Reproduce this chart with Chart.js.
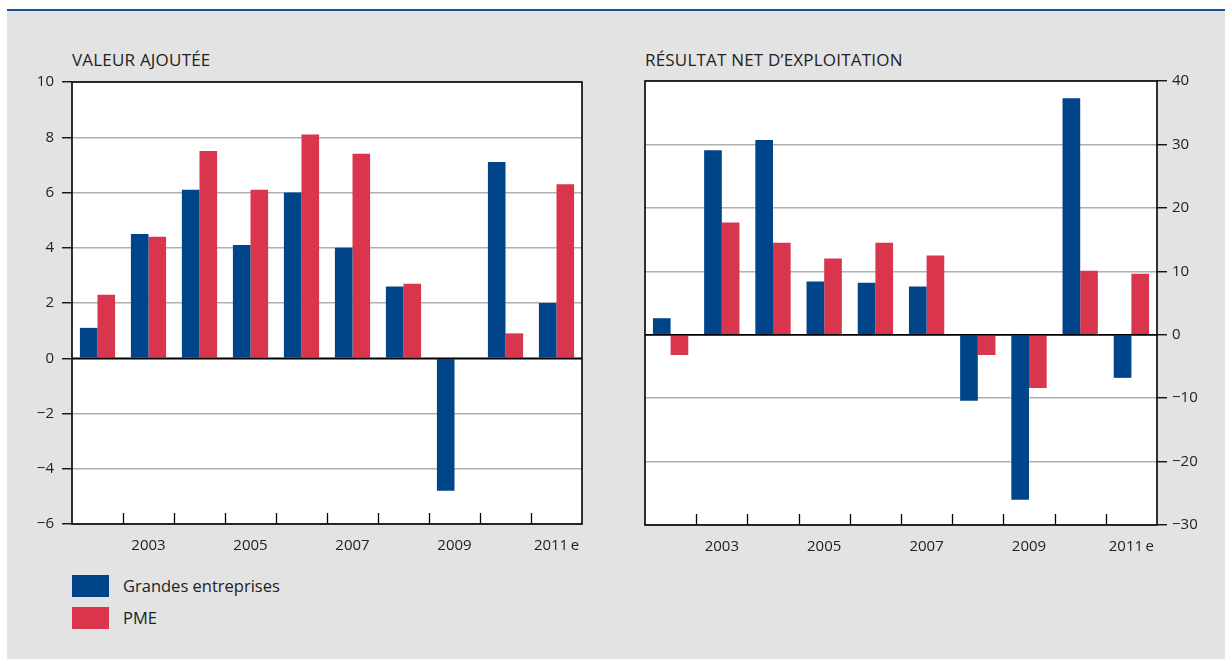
<!DOCTYPE html>
<html>
<head>
<meta charset="utf-8">
<script src="https://cdn.jsdelivr.net/npm/chart.js@4.4.1/dist/chart.umd.min.js"></script>
<style>
  html, body { margin:0; padding:0; background:#ffffff; width:1225px; height:659px; overflow:hidden; font-family:"Open Sans","Noto Sans",sans-serif; }
  #panel { position:absolute; left:7px; top:11px; width:1218px; height:648px; background:#e3e3e3; }
  #topline { position:absolute; left:7px; top:9px; width:1218px; height:2px; background:#1b4f8f; }
  .title { position:absolute; font-size:17px; line-height:22px; color:#222; white-space:nowrap; letter-spacing:0.2px; }
  .lg-box { position:absolute; width:37px; height:22px; }
  .lg-txt { position:absolute; font-size:16.5px; line-height:22px; color:#222; white-space:nowrap; }
  canvas { position:absolute; }
</style>
</head>
<body>
<div id="panel"></div>
<div id="topline"></div>
<div class="title" style="left:72px; top:49px;">VALEUR AJOUTÉE</div>
<div class="title" style="left:645px; top:49px;">RÉSULTAT NET D’EXPLOITATION</div>
<div class="lg-box" style="left:72px; top:575px; background:#004489;"></div>
<div class="lg-txt" style="left:123px; top:575px;">Grandes entreprises</div>
<div class="lg-box" style="left:72px; top:607px; background:#d9364e;"></div>
<div class="lg-txt" style="left:123px; top:607px;">PME</div>
<div style="position:absolute;left:0;top:0;width:612px;height:600px;"><canvas id="c1" width="612" height="600" style="left:0;top:0;width:612px;height:600px;"></canvas></div>
<div style="position:absolute;left:612px;top:0;width:613px;height:600px;"><canvas id="c2" width="613" height="600" style="left:0;top:0;width:613px;height:600px;"></canvas></div>
<script>
// ---- data ----
const categories = ['2002','2003','2004','2005','2006','2007','2008','2009','2010','2011 e'];
const xTickLabels = ['','2003','','2005','','2007','','2009','','2011\u2009e'];
const seriesNames = ['Grandes entreprises','PME'];

const valeurGrandes = [1.1, 4.5, 6.1, 4.1, 6.0, 4.0, 2.6, -4.8, 7.1, 2.0];
const valeurPME     = [2.3, 4.4, 7.5, 6.1, 8.1, 7.4, 2.7, 0, 0.9, 6.3];

const resultatGrandes = [2.6, 29.1, 30.7, 8.4, 8.2, 7.6, -10.4, -26.0, 37.3, -6.8];
const resultatPME     = [-3.2, 17.7, 14.5, 12.0, 14.5, 12.5, -3.2, -8.4, 10.1, 9.6];

const leftTicks  = [-6, -4, -2, 0, 2, 4, 6, 8, 10];
const rightTicks = [-30, -20, -10, 0, 10, 20, 30, 40];

// ---- style ----
const BLUE = '#004489';
const RED = '#d9364e';
Chart.defaults.font.family = '"Open Sans","Noto Sans",sans-serif';
Chart.defaults.font.size = 15;
Chart.defaults.color = '#222';
Chart.defaults.animation = false;

const fmt = v => (v < 0 ? '\u2212' + Math.abs(v) : String(v));

const framePlugin = {
  id: 'frame',
  afterDatasetsDraw(chart) {
    const ctx = chart.ctx, a = chart.chartArea;
    const xs = chart.scales.x, ys = chart.scales.y;
    ctx.save();
    ctx.strokeStyle = '#000';
    ctx.lineWidth = 1.5;
    const y0 = ys.getPixelForValue(0);
    ctx.beginPath(); ctx.moveTo(a.left, y0); ctx.lineTo(a.right, y0); ctx.stroke();
    ctx.lineWidth = 1.3;
    for (let i = 1; i < categories.length; i++) {
      const x = Math.round((xs.getPixelForValue(i - 1) + xs.getPixelForValue(i)) / 2) + 0.5;
      ctx.beginPath(); ctx.moveTo(x, a.bottom); ctx.lineTo(x, a.bottom - 11); ctx.stroke();
    }
    ctx.lineWidth = 1.6;
    ctx.strokeRect(a.left, a.top, a.right - a.left, a.bottom - a.top);
    ctx.restore();
  }
};

const bgPlugin = {
  id: 'plotbg',
  beforeDraw(chart) {
    const ctx = chart.ctx, a = chart.chartArea;
    ctx.save();
    ctx.fillStyle = '#ffffff';
    ctx.fillRect(a.left, a.top, a.right - a.left, a.bottom - a.top);
    ctx.restore();
  }
};

function makeChart(id, g, p, ticks, pos, padding, yWidth) {
  const tickSet = ticks.slice();
  return new Chart(document.getElementById(id), {
    type: 'bar',
    data: {
      labels: categories,
      datasets: [
        { label: seriesNames[0], data: g, backgroundColor: BLUE, categoryPercentage: 0.69, barPercentage: 1.0 },
        { label: seriesNames[1], data: p, backgroundColor: RED, categoryPercentage: 0.69, barPercentage: 1.0 }
      ]
    },
    options: {
      responsive: false,
      maintainAspectRatio: false,
      layout: { padding: padding },
      plugins: { legend: { display: false }, tooltip: { enabled: false } },
      scales: {
        x: {
          grid: { display: false, drawTicks: false },
          border: { display: false },
          ticks: {
            autoSkip: false, maxRotation: 0, padding: 13, color: '#222',
            font: { size: 15 },
            callback: (v, i) => xTickLabels[i]
          },
          afterFit: s => { s.height = 40; }
        },
        y: {
          position: pos,
          min: tickSet[0], max: tickSet[tickSet.length - 1],
          afterBuildTicks: s => { s.ticks = tickSet.map(v => ({ value: v })); },
          grid: {
            color: c => (c.tick && c.tick.value === 0 ? '#000' : '#b0b0b0'),
            lineWidth: 1.5,
            drawTicks: true, tickLength: 10, tickColor: '#000', tickWidth: 1.3
          },
          border: { display: false },
          ticks: { padding: pos === 'left' ? 8 : 5, color: '#222', font: { size: 15 }, callback: v => fmt(v) },
          afterFit: s => { s.width = yWidth; }
        }
      }
    },
    plugins: [bgPlugin, framePlugin]
  });
}

makeChart('c1', valeurGrandes, valeurPME, leftTicks, 'left', { top: 82, left: 0, right: 30, bottom: 36 }, 72);
makeChart('c2', resultatGrandes, resultatPME, rightTicks, 'right', { top: 81, left: 33, right: 0, bottom: 35 }, 68);
</script>
</body>
</html>
